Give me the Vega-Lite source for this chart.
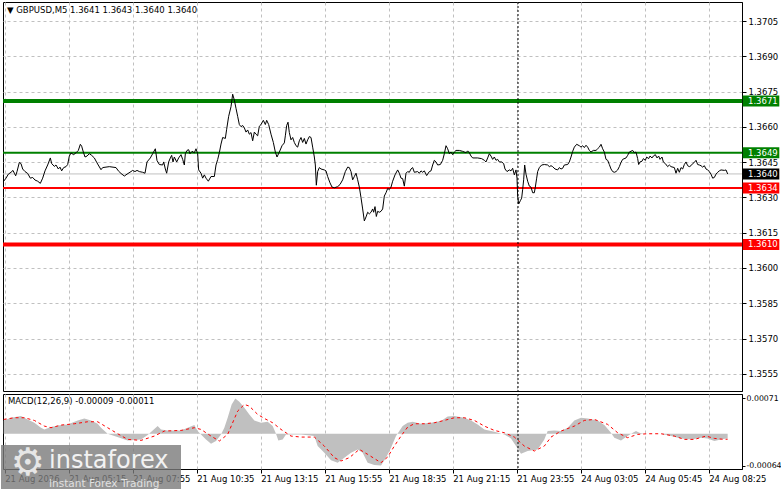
{
  "$schema": "https://vega.github.io/schema/vega-lite/v6.json",
  "background": "#ffffff",
  "padding": {"left": 0, "top": 1, "right": 0, "bottom": 0},
  "bounds": "flush",
  "spacing": 3,
  "config": {
    "font": "DejaVu Sans",
    "view": {"stroke": "#000000", "strokeWidth": 1},
    "axis": {
      "labelFont": "DejaVu Sans",
      "labelFontSize": 8.5,
      "labelColor": "#000000",
      "tickColor": "#000000",
      "domainColor": "#000000",
      "gridColor": "#c0c0c0",
      "gridDash": [3, 3],
      "labelOverlap": false,
      "labelFlush": false
    }
  },
  "datasets": {
    "levels": [
      {"name": "R2", "level": 1.3671},
      {"name": "R1", "level": 1.3649},
      {"name": "bid", "level": 1.364},
      {"name": "S1", "level": 1.3634},
      {"name": "S2", "level": 1.361}
    ],
    "sep": [{"b": 256.65}],
    "price": [
      {"b": -0.52, "p": 1.36369}, {"b": 0.65, "p": 1.36382}, {"b": 1.82, "p": 1.36399}, {"b": 3.15, "p": 1.36407},
      {"b": 4.15, "p": 1.36415}, {"b": 4.82, "p": 1.36403}, {"b": 5.48, "p": 1.36392}, {"b": 6.15, "p": 1.3641},
      {"b": 7.32, "p": 1.36449}, {"b": 8.15, "p": 1.36444}, {"b": 8.98, "p": 1.36421}, {"b": 10.15, "p": 1.3641},
      {"b": 11.48, "p": 1.36402}, {"b": 12.82, "p": 1.36382}, {"b": 13.98, "p": 1.36385}, {"b": 15.15, "p": 1.36374},
      {"b": 16.48, "p": 1.36369}, {"b": 17.82, "p": 1.3636}, {"b": 18.98, "p": 1.36382}, {"b": 20.15, "p": 1.36413},
      {"b": 21.48, "p": 1.36438}, {"b": 22.82, "p": 1.36468}, {"b": 23.48, "p": 1.36444}, {"b": 24.82, "p": 1.36432},
      {"b": 25.65, "p": 1.36438}, {"b": 26.82, "p": 1.36421}, {"b": 27.65, "p": 1.36429}, {"b": 28.48, "p": 1.36413},
      {"b": 29.48, "p": 1.36427}, {"b": 30.65, "p": 1.36431}, {"b": 31.48, "p": 1.3644}, {"b": 32.32, "p": 1.36476},
      {"b": 33.15, "p": 1.36489}, {"b": 34.48, "p": 1.36482}, {"b": 35.65, "p": 1.3649}, {"b": 36.82, "p": 1.365},
      {"b": 37.82, "p": 1.36526}, {"b": 38.48, "p": 1.36518}, {"b": 39.32, "p": 1.36493}, {"b": 40.15, "p": 1.36472},
      {"b": 41.15, "p": 1.36476}, {"b": 42.32, "p": 1.36486}, {"b": 43.48, "p": 1.36479}, {"b": 44.82, "p": 1.36468},
      {"b": 46.15, "p": 1.36447}, {"b": 48.15, "p": 1.36418}, {"b": 48.98, "p": 1.36427}, {"b": 50.65, "p": 1.36429},
      {"b": 52.32, "p": 1.36431}, {"b": 55.65, "p": 1.36427}, {"b": 56.82, "p": 1.36413}, {"b": 58.15, "p": 1.36402},
      {"b": 59.82, "p": 1.36391}, {"b": 61.15, "p": 1.36399}, {"b": 63.15, "p": 1.3641}, {"b": 63.98, "p": 1.36415},
      {"b": 65.15, "p": 1.3641}, {"b": 66.15, "p": 1.36415}, {"b": 67.32, "p": 1.3641}, {"b": 68.98, "p": 1.36407},
      {"b": 70.15, "p": 1.36403}, {"b": 71.15, "p": 1.36451}, {"b": 72.82, "p": 1.36468}, {"b": 73.98, "p": 1.36486},
      {"b": 75.32, "p": 1.36507}, {"b": 76.15, "p": 1.36457}, {"b": 77.32, "p": 1.3644}, {"b": 78.98, "p": 1.36438},
      {"b": 79.48, "p": 1.36451}, {"b": 80.32, "p": 1.36421}, {"b": 80.98, "p": 1.36403}, {"b": 81.98, "p": 1.36451},
      {"b": 82.82, "p": 1.36468}, {"b": 83.48, "p": 1.36479}, {"b": 84.15, "p": 1.36451}, {"b": 84.82, "p": 1.36472},
      {"b": 85.98, "p": 1.36451}, {"b": 86.98, "p": 1.36468}, {"b": 88.15, "p": 1.36482}, {"b": 88.98, "p": 1.36462},
      {"b": 89.82, "p": 1.36438}, {"b": 90.32, "p": 1.36486}, {"b": 91.15, "p": 1.365}, {"b": 91.98, "p": 1.36503},
      {"b": 92.65, "p": 1.36486}, {"b": 93.65, "p": 1.36496}, {"b": 94.82, "p": 1.3649}, {"b": 95.65, "p": 1.36507},
      {"b": 96.48, "p": 1.36486}, {"b": 96.98, "p": 1.36417}, {"b": 98.15, "p": 1.36403}, {"b": 98.98, "p": 1.36382},
      {"b": 99.82, "p": 1.36396}, {"b": 100.65, "p": 1.36382}, {"b": 101.82, "p": 1.36369}, {"b": 103.15, "p": 1.36389},
      {"b": 104.82, "p": 1.36389}, {"b": 105.65, "p": 1.36438}, {"b": 106.48, "p": 1.36461}, {"b": 107.32, "p": 1.3649},
      {"b": 108.15, "p": 1.36527}, {"b": 108.98, "p": 1.36555}, {"b": 110.32, "p": 1.36551}, {"b": 110.98, "p": 1.3659},
      {"b": 111.98, "p": 1.36645}, {"b": 113.15, "p": 1.36686}, {"b": 113.98, "p": 1.36739}, {"b": 114.82, "p": 1.36714},
      {"b": 115.65, "p": 1.36679}, {"b": 116.48, "p": 1.36645}, {"b": 117.32, "p": 1.3661}, {"b": 118.15, "p": 1.36601},
      {"b": 118.98, "p": 1.36606}, {"b": 119.82, "p": 1.36596}, {"b": 120.65, "p": 1.36578}, {"b": 121.48, "p": 1.36587},
      {"b": 122.32, "p": 1.36569}, {"b": 123.15, "p": 1.36576}, {"b": 123.98, "p": 1.36541}, {"b": 124.82, "p": 1.36578},
      {"b": 125.65, "p": 1.36569}, {"b": 126.48, "p": 1.36562}, {"b": 127.32, "p": 1.36603}, {"b": 128.15, "p": 1.3661},
      {"b": 129.32, "p": 1.36628}, {"b": 130.32, "p": 1.3661}, {"b": 130.98, "p": 1.36628}, {"b": 131.98, "p": 1.3661},
      {"b": 133.15, "p": 1.36569}, {"b": 134.32, "p": 1.36534}, {"b": 135.32, "p": 1.36493}, {"b": 136.15, "p": 1.36472},
      {"b": 137.32, "p": 1.36493}, {"b": 138.65, "p": 1.3652}, {"b": 139.82, "p": 1.36532}, {"b": 140.32, "p": 1.36562},
      {"b": 140.98, "p": 1.36606}, {"b": 141.65, "p": 1.3662}, {"b": 142.32, "p": 1.36576}, {"b": 143.15, "p": 1.36545},
      {"b": 143.98, "p": 1.36555}, {"b": 144.82, "p": 1.36534}, {"b": 145.65, "p": 1.3652}, {"b": 146.48, "p": 1.36514},
      {"b": 147.32, "p": 1.36541}, {"b": 148.15, "p": 1.36555}, {"b": 148.98, "p": 1.36534}, {"b": 149.82, "p": 1.36551},
      {"b": 150.65, "p": 1.36527}, {"b": 151.48, "p": 1.36545}, {"b": 152.32, "p": 1.36559}, {"b": 153.15, "p": 1.36555},
      {"b": 153.98, "p": 1.36514}, {"b": 154.82, "p": 1.36472}, {"b": 155.32, "p": 1.36438}, {"b": 155.82, "p": 1.36352},
      {"b": 156.48, "p": 1.3641}, {"b": 157.32, "p": 1.36427}, {"b": 158.15, "p": 1.36421}, {"b": 159.82, "p": 1.36417},
      {"b": 160.65, "p": 1.36413}, {"b": 161.48, "p": 1.36389}, {"b": 162.65, "p": 1.36362}, {"b": 163.65, "p": 1.36344},
      {"b": 164.82, "p": 1.36341}, {"b": 166.48, "p": 1.36346}, {"b": 167.65, "p": 1.36355}, {"b": 168.98, "p": 1.36375},
      {"b": 170.32, "p": 1.3641}, {"b": 171.48, "p": 1.36429}, {"b": 172.32, "p": 1.36427}, {"b": 173.15, "p": 1.3641},
      {"b": 173.98, "p": 1.36375}, {"b": 174.82, "p": 1.36389}, {"b": 175.65, "p": 1.36403}, {"b": 176.48, "p": 1.36375},
      {"b": 177.32, "p": 1.36344}, {"b": 178.15, "p": 1.36299}, {"b": 178.98, "p": 1.36251}, {"b": 179.82, "p": 1.362},
      {"b": 180.65, "p": 1.36217}, {"b": 181.48, "p": 1.36237}, {"b": 182.32, "p": 1.3623}, {"b": 183.15, "p": 1.36237},
      {"b": 183.98, "p": 1.36251}, {"b": 184.48, "p": 1.36237}, {"b": 185.15, "p": 1.36261}, {"b": 185.82, "p": 1.36219},
      {"b": 186.48, "p": 1.36241}, {"b": 187.32, "p": 1.36237}, {"b": 188.15, "p": 1.36241}, {"b": 188.98, "p": 1.36251},
      {"b": 189.82, "p": 1.36306}, {"b": 190.65, "p": 1.3632}, {"b": 191.48, "p": 1.36338}, {"b": 192.32, "p": 1.36334},
      {"b": 193.15, "p": 1.36344}, {"b": 193.98, "p": 1.36369}, {"b": 195.15, "p": 1.36396}, {"b": 196.48, "p": 1.36417},
      {"b": 197.32, "p": 1.36403}, {"b": 198.15, "p": 1.36382}, {"b": 198.98, "p": 1.3638}, {"b": 199.82, "p": 1.36348},
      {"b": 200.65, "p": 1.36403}, {"b": 201.48, "p": 1.3641}, {"b": 202.32, "p": 1.36407}, {"b": 203.15, "p": 1.36421},
      {"b": 203.98, "p": 1.36427}, {"b": 204.82, "p": 1.36407}, {"b": 206.48, "p": 1.3641}, {"b": 207.32, "p": 1.36403},
      {"b": 208.15, "p": 1.36413}, {"b": 208.98, "p": 1.36407}, {"b": 209.82, "p": 1.36413}, {"b": 210.98, "p": 1.36393},
      {"b": 212.32, "p": 1.3641}, {"b": 213.15, "p": 1.36413}, {"b": 213.98, "p": 1.36438}, {"b": 214.82, "p": 1.36458},
      {"b": 215.65, "p": 1.36451}, {"b": 216.48, "p": 1.36438}, {"b": 217.82, "p": 1.3644}, {"b": 218.98, "p": 1.36458},
      {"b": 219.82, "p": 1.36486}, {"b": 220.65, "p": 1.3652}, {"b": 221.48, "p": 1.36507}, {"b": 222.32, "p": 1.36486},
      {"b": 223.15, "p": 1.36493}, {"b": 223.98, "p": 1.36482}, {"b": 224.82, "p": 1.36493}, {"b": 225.65, "p": 1.365},
      {"b": 227.32, "p": 1.365}, {"b": 228.98, "p": 1.36496}, {"b": 230.65, "p": 1.3649}, {"b": 231.48, "p": 1.36498},
      {"b": 232.32, "p": 1.3649}, {"b": 233.15, "p": 1.36476}, {"b": 233.98, "p": 1.36468}, {"b": 236.48, "p": 1.36468},
      {"b": 238.48, "p": 1.36465}, {"b": 239.82, "p": 1.36458}, {"b": 240.65, "p": 1.36451}, {"b": 241.48, "p": 1.36468},
      {"b": 242.32, "p": 1.36486}, {"b": 243.15, "p": 1.36476}, {"b": 243.98, "p": 1.36462}, {"b": 244.82, "p": 1.36472},
      {"b": 245.65, "p": 1.36458}, {"b": 246.48, "p": 1.36462}, {"b": 247.32, "p": 1.36451}, {"b": 248.48, "p": 1.36451},
      {"b": 249.48, "p": 1.36444}, {"b": 250.15, "p": 1.36421}, {"b": 251.15, "p": 1.3641}, {"b": 252.32, "p": 1.36417},
      {"b": 253.15, "p": 1.36413}, {"b": 253.98, "p": 1.36424}, {"b": 254.82, "p": 1.36396}, {"b": 255.65, "p": 1.36417},
      {"b": 256.15, "p": 1.36382}, {"b": 256.48, "p": 1.36306}, {"b": 256.98, "p": 1.36272}, {"b": 257.82, "p": 1.36286},
      {"b": 258.48, "p": 1.36297}, {"b": 258.98, "p": 1.36334}, {"b": 259.48, "p": 1.36375}, {"b": 259.98, "p": 1.36438},
      {"b": 260.65, "p": 1.36399}, {"b": 261.48, "p": 1.36369}, {"b": 262.32, "p": 1.36348}, {"b": 263.15, "p": 1.36344},
      {"b": 263.98, "p": 1.3632}, {"b": 264.82, "p": 1.3632}, {"b": 265.32, "p": 1.36344}, {"b": 265.98, "p": 1.36382},
      {"b": 266.48, "p": 1.3641}, {"b": 267.32, "p": 1.36427}, {"b": 268.48, "p": 1.36438}, {"b": 269.82, "p": 1.3644},
      {"b": 271.48, "p": 1.36438}, {"b": 272.32, "p": 1.36431}, {"b": 273.15, "p": 1.36435}, {"b": 273.98, "p": 1.36431},
      {"b": 275.15, "p": 1.36421}, {"b": 276.48, "p": 1.36417}, {"b": 277.32, "p": 1.36427}, {"b": 278.15, "p": 1.36421},
      {"b": 278.98, "p": 1.36424}, {"b": 279.82, "p": 1.36438}, {"b": 281.48, "p": 1.3644}, {"b": 282.32, "p": 1.36451},
      {"b": 283.15, "p": 1.36472}, {"b": 283.98, "p": 1.36496}, {"b": 284.82, "p": 1.36514}, {"b": 285.98, "p": 1.36526},
      {"b": 287.32, "p": 1.3652}, {"b": 288.15, "p": 1.36514}, {"b": 288.98, "p": 1.3652}, {"b": 289.82, "p": 1.36512},
      {"b": 290.65, "p": 1.36522}, {"b": 291.48, "p": 1.36514}, {"b": 292.32, "p": 1.365}, {"b": 293.15, "p": 1.36493},
      {"b": 294.32, "p": 1.365}, {"b": 295.65, "p": 1.365}, {"b": 296.48, "p": 1.36507}, {"b": 297.32, "p": 1.36514},
      {"b": 298.15, "p": 1.36526}, {"b": 298.98, "p": 1.36507}, {"b": 299.82, "p": 1.36493}, {"b": 300.65, "p": 1.36462},
      {"b": 301.48, "p": 1.36458}, {"b": 302.32, "p": 1.3644}, {"b": 303.15, "p": 1.36421}, {"b": 303.98, "p": 1.3641},
      {"b": 304.82, "p": 1.36407}, {"b": 305.65, "p": 1.3641}, {"b": 306.48, "p": 1.36417}, {"b": 307.32, "p": 1.36431},
      {"b": 308.15, "p": 1.36449}, {"b": 308.98, "p": 1.36462}, {"b": 310.65, "p": 1.36468}, {"b": 311.48, "p": 1.36479},
      {"b": 312.32, "p": 1.36493}, {"b": 313.98, "p": 1.365}, {"b": 314.82, "p": 1.3649}, {"b": 315.65, "p": 1.36493},
      {"b": 316.48, "p": 1.36465}, {"b": 316.98, "p": 1.3644}, {"b": 317.65, "p": 1.36451}, {"b": 318.65, "p": 1.36454},
      {"b": 319.32, "p": 1.36465}, {"b": 320.32, "p": 1.36458}, {"b": 320.98, "p": 1.36472}, {"b": 321.98, "p": 1.36465},
      {"b": 322.65, "p": 1.36476}, {"b": 323.65, "p": 1.36468}, {"b": 324.32, "p": 1.36476}, {"b": 325.32, "p": 1.36482},
      {"b": 326.15, "p": 1.36468}, {"b": 326.98, "p": 1.36476}, {"b": 327.65, "p": 1.36462}, {"b": 328.65, "p": 1.36472},
      {"b": 329.32, "p": 1.36451}, {"b": 330.32, "p": 1.36444}, {"b": 331.48, "p": 1.36431}, {"b": 332.32, "p": 1.36438},
      {"b": 333.15, "p": 1.36431}, {"b": 334.82, "p": 1.36427}, {"b": 335.65, "p": 1.36403}, {"b": 336.48, "p": 1.36424},
      {"b": 337.32, "p": 1.36407}, {"b": 338.15, "p": 1.36427}, {"b": 338.98, "p": 1.36421}, {"b": 339.82, "p": 1.3644},
      {"b": 340.65, "p": 1.36451}, {"b": 341.48, "p": 1.36435}, {"b": 342.32, "p": 1.36431}, {"b": 343.15, "p": 1.36435},
      {"b": 343.98, "p": 1.36444}, {"b": 344.82, "p": 1.36449}, {"b": 345.65, "p": 1.36458}, {"b": 346.48, "p": 1.3644},
      {"b": 347.32, "p": 1.36438}, {"b": 348.15, "p": 1.36435}, {"b": 348.98, "p": 1.36429}, {"b": 349.82, "p": 1.36435},
      {"b": 350.65, "p": 1.36421}, {"b": 351.48, "p": 1.36417}, {"b": 352.32, "p": 1.3641}, {"b": 353.15, "p": 1.36399},
      {"b": 353.98, "p": 1.36382}, {"b": 354.82, "p": 1.36385}, {"b": 355.65, "p": 1.36399}, {"b": 356.48, "p": 1.36407},
      {"b": 357.32, "p": 1.36413}, {"b": 358.15, "p": 1.36417}, {"b": 359.82, "p": 1.36415}, {"b": 360.65, "p": 1.36417},
      {"b": 361.48, "p": 1.364}
    ],
    "hist": [
      {"b": -0.5, "h": 0.000268}, {"b": 3.15, "h": 0.000322}, {"b": 8.15, "h": 0.000355}, {"b": 11.48, "h": 0.000288},
      {"b": 14.82, "h": 0.000221}, {"b": 18.15, "h": 0.000121}, {"b": 19.82, "h": 0.000087}, {"b": 23.15, "h": 0.000134},
      {"b": 28.15, "h": 0.000174}, {"b": 31.48, "h": 0.000188}, {"b": 36.48, "h": 0.000268}, {"b": 39.82, "h": 0.000308},
      {"b": 43.15, "h": 0.000268}, {"b": 46.48, "h": 0.000201}, {"b": 48.15, "h": 0.000121}, {"b": 51.48, "h": 0},
      {"b": 54.82, "h": -0.000047}, {"b": 61.48, "h": -0.000134}, {"b": 68.15, "h": -0.000114}, {"b": 71.48, "h": -0.000027},
      {"b": 73.98, "h": 0.000067}, {"b": 76.48, "h": 0.000154}, {"b": 78.15, "h": 0.000087}, {"b": 81.48, "h": 0.000067},
      {"b": 88.15, "h": 0.000067}, {"b": 91.48, "h": 0.000121}, {"b": 94.82, "h": 0.000174}, {"b": 96.48, "h": 0.000054},
      {"b": 98.15, "h": -0.000013}, {"b": 100.65, "h": -0.000114}, {"b": 103.15, "h": -0.000201}, {"b": 105.65, "h": -0.000147},
      {"b": 108.15, "h": -0.000013}, {"b": 109.82, "h": 0.000121}, {"b": 111.48, "h": 0.000322}, {"b": 113.48, "h": 0.00059},
      {"b": 115.32, "h": 0.00071}, {"b": 117.32, "h": 0.000643}, {"b": 119.82, "h": 0.000523}, {"b": 122.32, "h": 0.000389},
      {"b": 124.82, "h": 0.000268}, {"b": 128.15, "h": 0.000221}, {"b": 131.48, "h": 0.000241}, {"b": 133.98, "h": 0.000154},
      {"b": 135.65, "h": 0}, {"b": 136.82, "h": -0.000134}, {"b": 138.98, "h": -0.000114}, {"b": 140.65, "h": -0.000013},
      {"b": 148.15, "h": -0.000013}, {"b": 154.82, "h": -0.000047}, {"b": 156.48, "h": -0.000248}, {"b": 159.82, "h": -0.000382},
      {"b": 163.15, "h": -0.000536}, {"b": 166.48, "h": -0.000583}, {"b": 169.82, "h": -0.000482}, {"b": 173.15, "h": -0.000382},
      {"b": 176.48, "h": -0.000315}, {"b": 178.98, "h": -0.000382}, {"b": 181.48, "h": -0.000583}, {"b": 184.82, "h": -0.00063},
      {"b": 188.15, "h": -0.00064}, {"b": 190.65, "h": -0.000482}, {"b": 193.15, "h": -0.000281}, {"b": 195.65, "h": -0.000047},
      {"b": 197.32, "h": 0.000054}, {"b": 198.98, "h": 0.000154}, {"b": 201.48, "h": 0.000221}, {"b": 203.98, "h": 0.000241},
      {"b": 208.15, "h": 0.000201}, {"b": 213.15, "h": 0.000221}, {"b": 218.15, "h": 0.000255}, {"b": 221.48, "h": 0.000348},
      {"b": 224.82, "h": 0.000355}, {"b": 229.82, "h": 0.000322}, {"b": 233.15, "h": 0.000268}, {"b": 236.48, "h": 0.000188},
      {"b": 239.82, "h": 0.000087}, {"b": 244.82, "h": 0.00004}, {"b": 249.82, "h": -0.000013}, {"b": 253.15, "h": -0.000094},
      {"b": 255.65, "h": -0.000248}, {"b": 258.15, "h": -0.000402}, {"b": 261.48, "h": -0.000348}, {"b": 266.48, "h": -0.000315},
      {"b": 269.82, "h": -0.000114}, {"b": 271.48, "h": 0.000054}, {"b": 274.82, "h": 0.000067}, {"b": 278.15, "h": 0.000054},
      {"b": 281.48, "h": 0.000121}, {"b": 284.82, "h": 0.000268}, {"b": 288.15, "h": 0.000322}, {"b": 291.48, "h": 0.000308},
      {"b": 296.48, "h": 0.000268}, {"b": 299.82, "h": 0.000174}, {"b": 303.15, "h": 0.00002}, {"b": 304.82, "h": -0.00008},
      {"b": 308.15, "h": -0.000134}, {"b": 310.65, "h": -0.000067}, {"b": 313.15, "h": 0}, {"b": 315.65, "h": 0.000054},
      {"b": 317.32, "h": 0.00002}, {"b": 319.82, "h": 0}, {"b": 328.15, "h": 0}, {"b": 333.15, "h": -0.000047},
      {"b": 338.15, "h": -0.000094}, {"b": 343.15, "h": -0.000114}, {"b": 348.15, "h": -0.00008}, {"b": 351.48, "h": -0.000094},
      {"b": 354.82, "h": -0.000147}, {"b": 358.15, "h": -0.000114}, {"b": 361.48, "h": -0.00009}
    ],
    "signal": [
      {"b": -0.5, "s": 0.000288}, {"b": 4.82, "s": 0.000322}, {"b": 9.82, "s": 0.000322}, {"b": 14.82, "s": 0.000268},
      {"b": 19.82, "s": 0.000154}, {"b": 23.15, "s": 0.000121}, {"b": 28.15, "s": 0.000174}, {"b": 34.82, "s": 0.000201},
      {"b": 41.48, "s": 0.000241}, {"b": 46.48, "s": 0.000241}, {"b": 51.48, "s": 0.000121}, {"b": 56.48, "s": 0},
      {"b": 61.48, "s": -0.000114}, {"b": 68.15, "s": -0.000134}, {"b": 74.82, "s": -0.000047}, {"b": 79.82, "s": 0.000054},
      {"b": 88.15, "s": 0.000067}, {"b": 94.82, "s": 0.000121}, {"b": 98.15, "s": 0.000087}, {"b": 103.15, "s": -0.000047},
      {"b": 107.32, "s": -0.000147}, {"b": 111.48, "s": -0.000013}, {"b": 116.48, "s": 0.000456}, {"b": 119.82, "s": 0.00059},
      {"b": 122.32, "s": 0.000556}, {"b": 126.48, "s": 0.000389}, {"b": 129.82, "s": 0.000308}, {"b": 133.98, "s": 0.000221},
      {"b": 138.15, "s": 0.000087}, {"b": 143.15, "s": -0.000047}, {"b": 148.15, "s": -0.000067}, {"b": 154.82, "s": -0.000067},
      {"b": 159.82, "s": -0.000248}, {"b": 164.82, "s": -0.000482}, {"b": 168.15, "s": -0.000549}, {"b": 172.32, "s": -0.000482},
      {"b": 177.32, "s": -0.000315}, {"b": 181.48, "s": -0.000415}, {"b": 188.15, "s": -0.000583}, {"b": 191.48, "s": -0.000469},
      {"b": 194.82, "s": -0.000248}, {"b": 198.15, "s": -0.000047}, {"b": 201.48, "s": 0.000134}, {"b": 204.82, "s": 0.000201},
      {"b": 209.82, "s": 0.000201}, {"b": 214.82, "s": 0.000221}, {"b": 219.82, "s": 0.000268}, {"b": 224.82, "s": 0.000322},
      {"b": 229.82, "s": 0.000322}, {"b": 234.82, "s": 0.000268}, {"b": 239.82, "s": 0.000154}, {"b": 244.82, "s": 0.000067},
      {"b": 249.82, "s": 0.00002}, {"b": 254.82, "s": -0.000067}, {"b": 259.82, "s": -0.000248}, {"b": 264.82, "s": -0.000348},
      {"b": 269.82, "s": -0.000248}, {"b": 273.15, "s": -0.000067}, {"b": 278.15, "s": 0.000054}, {"b": 284.82, "s": 0.000154},
      {"b": 289.82, "s": 0.000268}, {"b": 294.82, "s": 0.000288}, {"b": 301.48, "s": 0.000188}, {"b": 306.48, "s": 0.00002},
      {"b": 311.48, "s": -0.00008}, {"b": 316.48, "s": -0.000013}, {"b": 321.48, "s": 0}, {"b": 328.15, "s": 0},
      {"b": 334.82, "s": -0.000047}, {"b": 339.82, "s": -0.000114}, {"b": 344.82, "s": -0.000114}, {"b": 350.65, "s": -0.000047},
      {"b": 354.82, "s": -0.000094}, {"b": 359.82, "s": -0.000114}, {"b": 361.48, "s": -0.00011}
    ]
  },
  "vconcat": [
    {
      "width": 739,
      "height": 389,
      "title": {
        "text": "▼  GBPUSD,M5  1.3641 1.3643 1.3640 1.3640",
        "anchor": "start",
        "frame": "group",
        "offset": -13,
        "dx": 4,
        "font": "DejaVu Sans",
        "fontSize": 8.5,
        "fontWeight": "normal",
        "color": "#000000"
      },
      "layer": [
        {
          "data": {"name": "levels"},
          "mark": {"type": "rule"},
          "encoding": {
            "y": {"field": "level", "type": "quantitative",
              "scale": {"domain": [1.35498, 1.3711], "nice": false, "zero": false},
              "axis": {"orient": "right", "values": [1.3705, 1.369, 1.3675, 1.366, 1.3645, 1.363, 1.3615, 1.36, 1.3585, 1.357, 1.3555],
                "labelExpr": "format(datum.value, '.4f')", "grid": true, "title": null, "tickSize": 4, "labelPadding": 2, "labelOverlap": false}},
            "stroke": {"field": "name", "type": "nominal", "legend": null,
              "scale": {"type": "ordinal", "domain": ["R2", "R1", "bid", "S1", "S2"], "range": ["#008000", "#008000", "#c0c0c0", "#ff0000", "#ff0000"]}},
            "strokeWidth": {"field": "name", "type": "nominal", "legend": null,
              "scale": {"type": "ordinal", "domain": ["R2", "R1", "bid", "S1", "S2"], "range": [4, 2, 1, 2, 4]}}
          }
        },
        {
          "data": {"name": "price"},
          "mark": {"type": "line", "color": "#000000", "strokeWidth": 1},
          "encoding": {
            "x": {"field": "b", "type": "quantitative",
              "scale": {"domain": [-0.85, 368.65], "nice": false, "zero": false},
              "axis": {"values": [0, 16, 32, 48, 64, 80, 96, 112, 128, 144, 160, 176, 192, 208, 224, 240, 256, 272, 288, 304, 320, 336, 352],
                "grid": true, "labels": false, "ticks": false, "domain": false, "title": null}},
            "y": {"field": "p", "type": "quantitative",
              "scale": {"domain": [1.35498, 1.3711], "nice": false, "zero": false},
              "axis": {"orient": "right", "values": [1.3705, 1.369, 1.3675, 1.366, 1.3645, 1.363, 1.3615, 1.36, 1.3585, 1.357, 1.3555],
                "labelExpr": "format(datum.value, '.4f')", "grid": true, "title": null, "tickSize": 4, "labelPadding": 2, "labelOverlap": false}}
          }
        },
        {
          "data": {"name": "sep"},
          "mark": {"type": "rule", "color": "#000000", "strokeWidth": 1, "strokeDash": [2, 2]},
          "encoding": {"x": {"field": "b", "type": "quantitative"}}
        },
        {
          "data": {"name": "levels"},
          "mark": {"type": "bar", "size": 11, "clip": false},
          "encoding": {
            "x": {"datum": 369},
            "x2": {"datum": 387.3},
            "y": {"field": "level", "type": "quantitative",
              "axis": {"orient": "right", "values": [1.3705, 1.369, 1.3675, 1.366, 1.3645, 1.363, 1.3615, 1.36, 1.3585, 1.357, 1.3555],
                "labelExpr": "format(datum.value, '.4f')", "grid": true, "title": null, "tickSize": 4, "labelPadding": 2, "labelOverlap": false}},
            "fill": {"field": "name", "type": "nominal", "legend": null,
              "scale": {"type": "ordinal", "domain": ["R2", "R1", "bid", "S1", "S2"], "range": ["#008000", "#008000", "#000000", "#ff0000", "#ff0000"]}}
          }
        },
        {
          "data": {"name": "levels"},
          "mark": {"type": "text", "align": "left", "baseline": "middle", "clip": false, "font": "DejaVu Sans", "fontSize": 8.5, "color": "#ffffff"},
          "encoding": {
            "x": {"datum": 371.65},
            "y": {"field": "level", "type": "quantitative",
              "axis": {"orient": "right", "values": [1.3705, 1.369, 1.3675, 1.366, 1.3645, 1.363, 1.3615, 1.36, 1.3585, 1.357, 1.3555],
                "labelExpr": "format(datum.value, '.4f')", "grid": true, "title": null, "tickSize": 4, "labelPadding": 2, "labelOverlap": false}},
            "text": {"field": "level", "type": "quantitative", "format": ".4f"}
          }
        }
      ]
    },
    {
      "width": 739,
      "height": 75,
      "title": {
        "text": "MACD(12,26,9) -0.00009 -0.00011",
        "anchor": "start",
        "frame": "group",
        "offset": -12,
        "dx": 5,
        "font": "DejaVu Sans",
        "fontSize": 8.5,
        "fontWeight": "normal",
        "color": "#000000"
      },
      "layer": [
        {
          "data": {"name": "hist"},
          "mark": {"type": "area", "color": "#c0c0c0"},
          "encoding": {
            "x": {"field": "b", "type": "quantitative",
              "scale": {"domain": [-0.85, 368.65], "nice": false, "zero": false},
              "axis": {"values": [0, 16, 32, 48, 64, 80, 96, 112, 128, 144, 160, 176, 192, 208, 224, 240, 256, 272, 288, 304, 320, 336, 352],
                "grid": true, "domain": false, "title": null, "tickSize": 4, "labelPadding": 1, "labelAlign": "left", "labelOverlap": false,
                "tickOpacity": {"condition": {"test": "datum.value % 32 != 0", "value": 0}, "value": 1},
                "labelExpr": "['21 Aug 2026','21 Aug 05:15','21 Aug 07:55','21 Aug 10:35','21 Aug 13:15','21 Aug 15:55','21 Aug 18:35','21 Aug 21:15','21 Aug 23:55','24 Aug 03:05','24 Aug 05:45','24 Aug 08:25'][datum.value / 32] || ''"}},
            "y": {"field": "h", "type": "quantitative",
              "scale": {"domain": [-0.00071, 0.0008], "nice": false, "zero": false},
              "axis": {"orient": "right", "values": [0.00071, 0, -0.00064], "title": null, "tickSize": 3, "labelPadding": 1,
                "labelFontSize": 7.8, "labelOverlap": false,
                "grid": true,
                "gridOpacity": {"condition": {"test": "datum.value === 0", "value": 1}, "value": 0},
                "labelExpr": "datum.value === 0 ? '0.00' : (datum.value < 0 ? '-' : '') + format(abs(datum.value), '.5f')"}},
            "y2": {"datum": 0}
          }
        },
        {
          "data": {"name": "signal"},
          "mark": {"type": "line", "color": "#ff0000", "strokeWidth": 1, "strokeDash": [3, 3]},
          "encoding": {
            "x": {"field": "b", "type": "quantitative"},
            "y": {"field": "s", "type": "quantitative"}
          }
        },
        {
          "data": {"name": "sep"},
          "mark": {"type": "rule", "color": "#000000", "strokeWidth": 1, "strokeDash": [2, 2]},
          "encoding": {"x": {"field": "b", "type": "quantitative"}}
        },
        {
          "data": {"values": [{}]},
          "mark": {"type": "rect", "clip": false, "color": "#7a7a7a", "opacity": 0.8},
          "encoding": {
            "x": {"datum": -1.85},
            "x2": {"datum": 88.15},
            "y": {"datum": -0.000227},
            "y2": {"datum": -0.00114}
          }
        },
        {
          "data": {"values": [{}]},
          "mark": {"type": "text", "clip": false, "text": "⚙", "align": "center", "baseline": "middle", "font": "DejaVu Sans", "fontSize": 38, "color": "#e6e6e6"},
          "encoding": {"x": {"datum": 11.5}, "y": {"datum": -0.00061}}
        },
        {
          "data": {"values": [{}]},
          "mark": {"type": "text", "clip": false, "text": "instaforex", "align": "left", "baseline": "alphabetic", "font": "DejaVu Sans", "fontSize": 24, "color": "#f2f2f2"},
          "encoding": {"x": {"datum": 22.15}, "y": {"datum": -0.000689}}
        },
        {
          "data": {"values": [{}]},
          "mark": {"type": "text", "clip": false, "text": "Instant Forex Trading", "align": "left", "baseline": "alphabetic", "font": "DejaVu Sans", "fontSize": 10.5, "color": "#e0e0e0"},
          "encoding": {"x": {"datum": 22.15}, "y": {"datum": -0.001071}}
        }
      ]
    }
  ]
}
